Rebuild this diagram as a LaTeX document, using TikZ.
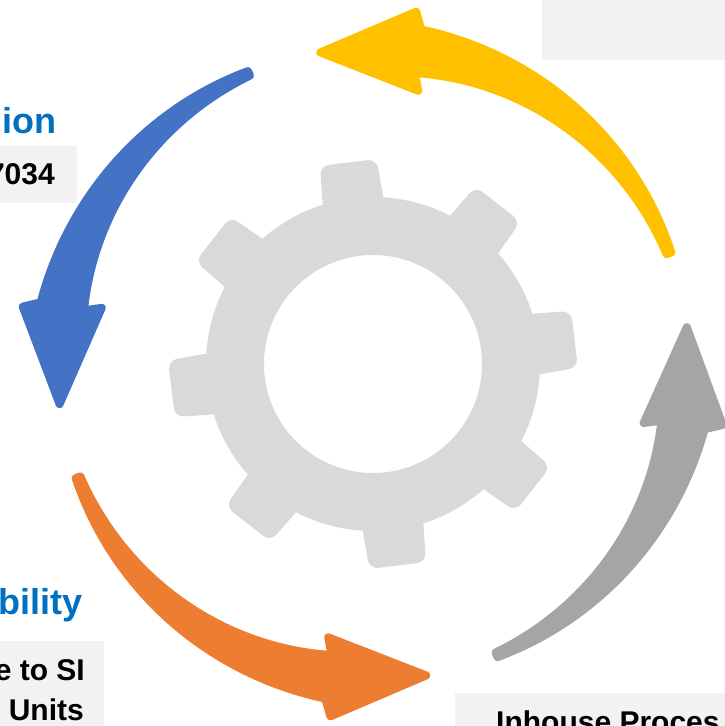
\documentclass[tikz,border=0pt]{standalone}
\usepackage{fontspec}
\setmainfont{Liberation Sans}
\definecolor{cblue}{HTML}{4472C4}
\definecolor{cyellow}{HTML}{FFC000}
\definecolor{corange}{HTML}{ED7D31}
\definecolor{cgray}{HTML}{A5A5A5}
\definecolor{cgear}{HTML}{D9D9D9}
\definecolor{cbox}{HTML}{F2F2F2}
\definecolor{ctitle}{HTML}{0070C0}
\newcommand\cyclearrow[3]{%
  \pgfmathsetmacro\arrTail{#2}%
  \pgfmathsetmacro\arrTip{#3}%
  \pgfmathsetmacro\arrBase{#3-18.5}%
  \fill[#1, draw=#1, line width=8pt, line join=round]
    plot[domain=\arrTail:\arrBase, samples=50, variable=\t]
      ({\t}:{316+2.5+19.5*((\t-\arrTail)/(\arrBase-\arrTail))*(0.75+0.25*((\t-\arrTail)/(\arrBase-\arrTail)))})
    -- ({\arrBase+1.2}:355) -- ({\arrTip-0.7}:316) -- ({\arrBase-1.2}:277)
    -- plot[domain=\arrBase:\arrTail, samples=50, variable=\t]
      ({\t}:{316-2.5-19.5*((\t-\arrTail)/(\arrBase-\arrTail))*(0.75+0.25*((\t-\arrTail)/(\arrBase-\arrTail)))})
    -- cycle;
}
\tikzset{
  ttl/.style={font=\bfseries\fontsize{36}{43}\selectfont, text=ctitle, inner sep=0pt},
  bodytxt/.style={font=\bfseries\fontsize{30}{36}\selectfont, text=black, inner sep=0pt},
  boxfill/.style={fill=cbox},
  gearfill/.style={fill=cgear}
}
\begin{document}
\begin{tikzpicture}[x=1pt,y=1pt]
\useasboundingbox (-373,-362) rectangle (351,364);
% text boxes
\path[boxfill] (-380,218) rectangle (-296,161);
\path[boxfill] (-380,-277) rectangle (-269,-370);
\path[boxfill] (82,-329) rectangle (360,-370);
\path[boxfill] (169,304) rectangle (360,370);
% gear
\path[gearfill, even odd rule] (0,0) circle (167) (0,0) circle (109);
\foreach \k in {0,...,7}
  \path[gearfill, rounded corners=9pt, rotate=97+45*\k]
    (156,-31) -- (203,-28.5) -- (203,28.5) -- (156,31) -- cycle;
% cycle arrows
\cyclearrow{cyellow}{20.5}{100.3}
\cyclearrow{cblue}{113.1}{188}
\cyclearrow{corange}{201}{280.4}
\cyclearrow{cgray}{293}{367.4}
% texts
\node[ttl, anchor=base east] (t1) at (-316,230) {ion};
\node[bodytxt, anchor=base east] (b1) at (-318,179) {7034};
\node[ttl, anchor=base east] (t2) at (-290,-250) {bility};
\node[bodytxt, anchor=base east] (b2a) at (-288,-316) {e to SI};
\node[bodytxt, anchor=base east] (b2b) at (-289,-356) {Units};
\node[bodytxt, anchor=base west] (b3) at (123,-368.5) {Inhouse Proces};
\end{tikzpicture}
\end{document}
